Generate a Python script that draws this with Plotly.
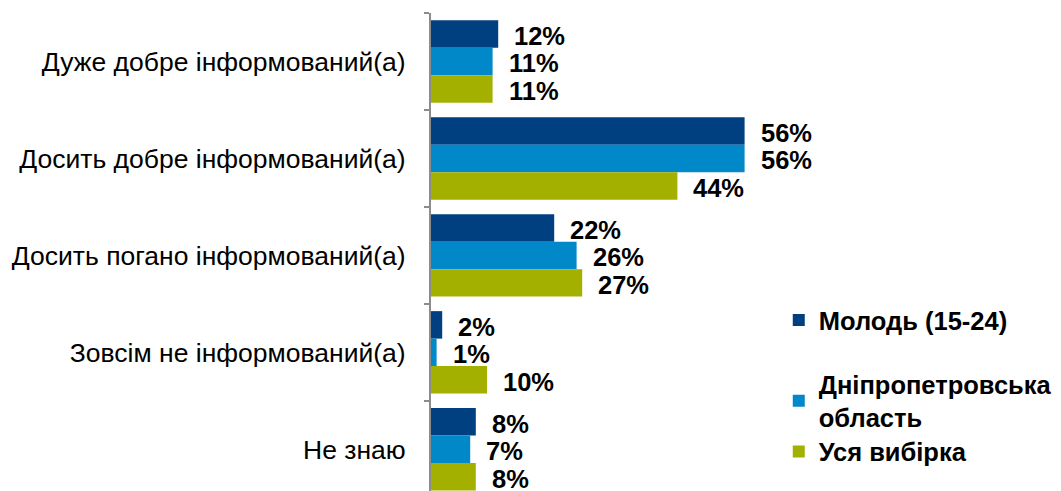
import plotly.graph_objects as go

categories = ["Дуже добре інформований(а)", "Досить добре інформований(а)",
              "Досить погано інформований(а)", "Зовсім не інформований(а)", "Не знаю"]
series_names = ["Молодь (15-24)", "Дніпропетровська<br>область", "Уся вибірка"]
youth = [12, 56, 22, 2, 8]
dnipro = [11, 56, 26, 1, 7]
total = [11, 44, 27, 10, 8]
series_values = [youth, dnipro, total]
colors = ["#003F80", "#0088C9", "#A3B000"]
legend_ids = ["legend", "legend2", "legend3"]
legend_y = [0.406, 0.272, 0.131]

FONT = "Arial, Liberation Sans, sans-serif"
fig = go.Figure()
for name, vals, col, lg in zip(series_names, series_values, colors, legend_ids):
    fig.add_trace(go.Bar(
        y=categories, x=vals, orientation="h", name=name,
        marker=dict(color=col, line=dict(width=0)), legend=lg,
        hoverinfo="skip",
    ))

bargap = 0.15
bw = (1 - bargap) / len(series_values)
annotations = []
for si, vals in enumerate(series_values):
    off = (si - (len(series_values) - 1) / 2) * bw
    for ci, v in enumerate(vals):
        annotations.append(dict(
            x=v, y=ci + off, xref="x", yref="y", text=f"<b>{v}%</b>",
            showarrow=False, xanchor="left", xshift=14, yshift=-2,
            font=dict(family=FONT, size=25.5, color="#000000"),
        ))

leg_common = dict(font=dict(family=FONT, size=25.5, color="#000000", weight="bold"),
                  bgcolor="rgba(0,0,0,0)", itemwidth=30, xanchor="left", yanchor="top")
legends = {}
for lg, ly in zip(legend_ids, legend_y):
    legends[lg] = dict(x=0.552, y=ly, **leg_common)

# page body has an 8px default margin, so the figure is sized to fit the window
fig.update_layout(
    width=1053, height=483,
    margin=dict(l=423, r=0, t=5, b=0, autoexpand=False),
    paper_bgcolor="white", plot_bgcolor="white",
    barmode="group", bargap=bargap, bargroupgap=0,
    showlegend=True,
    annotations=annotations,
    xaxis=dict(range=[0, 112.5], showgrid=False, zeroline=False, showline=False,
               showticklabels=False, ticks="", automargin=False),
    yaxis=dict(type="category", categoryorder="array", categoryarray=categories,
               range=[4.43, -0.5], autorange=False, automargin=False,
               showgrid=False, zeroline=False, showline=True,
               linecolor="#8C8C8C", linewidth=2,
               ticks="outside", tickson="boundaries", ticklen=5,
               tickcolor="#8C8C8C", tickwidth=2,
               ticklabelstandoff=18,
               tickfont=dict(family=FONT, size=26.5, color="#000000")),
    **legends,
)
fig.write_html("out.html")
